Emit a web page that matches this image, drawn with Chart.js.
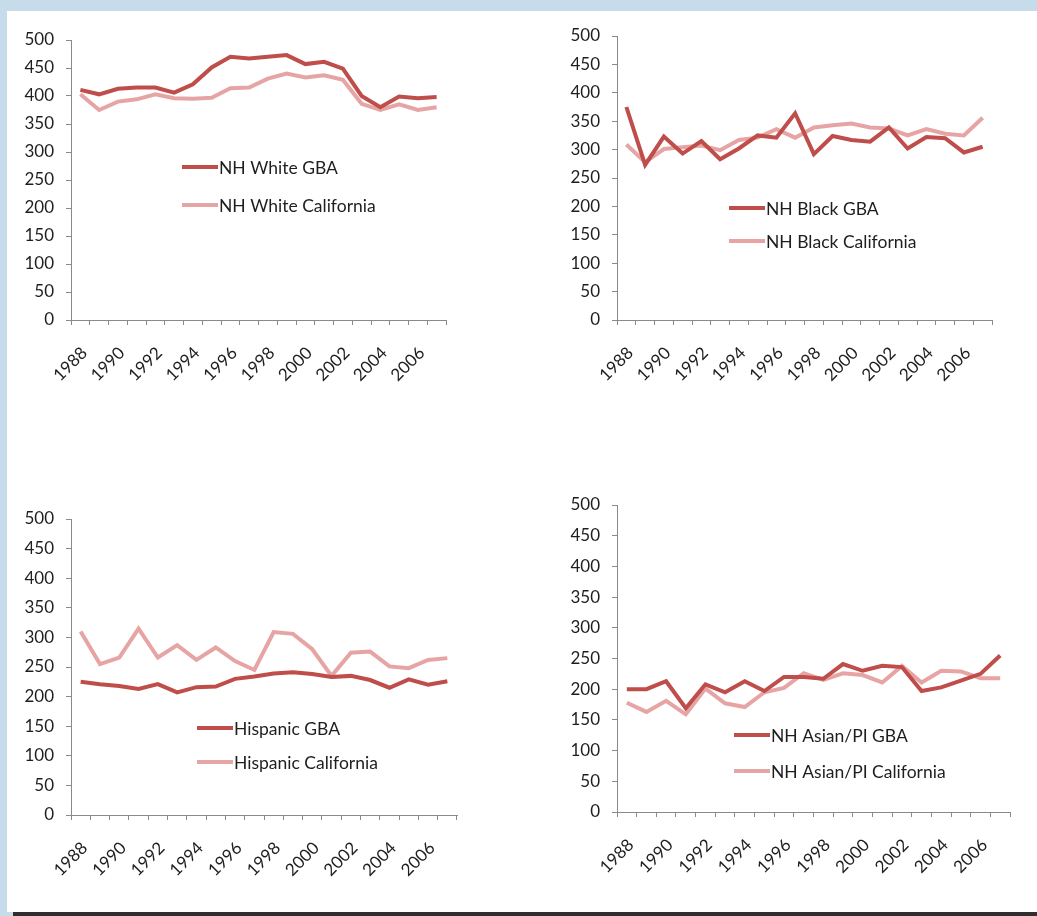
<!DOCTYPE html>
<html>
<head>
<meta charset="utf-8">
<script src="https://cdn.jsdelivr.net/npm/chart.js@4.4.1/dist/chart.umd.min.js"></script>
<style>
    html, body { margin: 0; padding: 0; }
    body { width: 1037px; height: 916px; background: #c6dcea; position: relative; overflow: hidden; }
    #panel { position: absolute; left: 7px; top: 11px; width: 1030px; height: 901px; background: #fff; }
    #bar { position: absolute; left: 13px; top: 912px; width: 1024px; height: 4px; background: #2e2e2e; }
    canvas { position: absolute; }
</style>
</head>
<body>
<div id="panel"></div>
<div id="bar"></div>
<canvas id="white" width="518" height="455" style="left:0;top:0"></canvas>
<canvas id="black" width="519" height="455" style="left:518px;top:0"></canvas>
<canvas id="hispanic" width="518" height="455" style="left:0;top:455px"></canvas>
<canvas id="asian" width="519" height="455" style="left:518px;top:455px"></canvas>
<script>
// years on the x axis, only every other one gets a label
const YEARS = ['1988', '1989', '1990', '1991', '1992', '1993', '1994', '1995', '1996', '1997',
    '1998', '1999', '2000', '2001', '2002', '2003', '2004', '2005', '2006', '2007'];
const Y_TICKS = [0, 50, 100, 150, 200, 250, 300, 350, 400, 450, 500];

const whiteGBA = [411, 403, 413, 415, 415, 406, 421, 451, 470, 467, 470, 473, 457, 461, 449, 400, 380, 399, 396, 398];
const whiteCal = [403, 375, 390, 394, 403, 396, 395, 397, 414, 415, 431, 440, 433, 437, 429, 386, 375, 385, 375, 380];

const blackGBA = [375, 273, 323, 293, 315, 283, 302, 325, 321, 364, 292, 324, 317, 314, 339, 302, 322, 320, 295, 305];
const blackCal = [309, 278, 301, 304, 307, 299, 317, 321, 336, 321, 339, 343, 346, 339, 337, 325, 336, 328, 325, 356];

const hispGBA = [225, 221, 218, 213, 221, 207, 216, 217, 230, 234, 239, 241, 238, 233, 235, 228, 215, 229, 220, 226];
const hispCal = [310, 255, 266, 315, 266, 287, 262, 283, 260, 245, 309, 306, 280, 235, 274, 276, 251, 248, 262, 265];

const asianGBA = [200, 200, 213, 169, 208, 195, 213, 197, 220, 220, 217, 241, 230, 238, 236, 197, 203, 214, 225, 255];
const asianCal = [178, 163, 181, 159, 201, 177, 171, 195, 202, 226, 215, 226, 223, 211, 238, 211, 230, 229, 218, 218];

const DARK = '#bf4d4a';
const LIGHT = '#e6a5a4';
const AXIS = '#8a8a8a';
const TEXT = '#1e1e1e';
const FONT = 'Lato, "Open Sans", sans-serif';

// legend drawn inside the plot, like the original spreadsheet charts
const insideLegend = {
    id: 'insideLegend',
    afterDraw(chart, args, opts) {
        const ctx = chart.ctx;
        ctx.save();
        ctx.font = '17.5px ' + FONT;
        ctx.textBaseline = 'middle';
        ctx.textAlign = 'left';
        chart.data.datasets.forEach(function (ds, i) {
            var y = opts.y + i * opts.gap;
            ctx.strokeStyle = ds.borderColor;
            ctx.lineWidth = 4;
            ctx.beginPath();
            ctx.moveTo(opts.x, y);
            ctx.lineTo(opts.x + 36, y);
            ctx.stroke();
            ctx.fillStyle = TEXT;
            ctx.fillText(ds.label, opts.x + 37, y + 1);
        });
        ctx.restore();
    }
};

function makeChart(id, names, gba, cal, area, legend) {
    const canvas = document.getElementById(id);
    return new Chart(canvas.getContext('2d'), {
        type: 'line',
        data: {
            labels: YEARS,
            datasets: [{
                label: names[0],
                data: gba,
                borderColor: DARK,
                borderWidth: 4,
                pointRadius: 0,
                tension: 0
            }, {
                label: names[1],
                data: cal,
                borderColor: LIGHT,
                borderWidth: 4,
                pointRadius: 0,
                tension: 0
            }]
        },
        options: {
            responsive: false,
            animation: false,
            events: [],
            layout: {
                padding: {left: 0, top: area.top, right: canvas.width - area.right, bottom: 0}
            },
            plugins: {
                legend: {display: false},
                tooltip: {enabled: false},
                insideLegend: legend
            },
            scales: {
                x: {
                    offset: true,
                    afterFit: function (s) { s.height = canvas.height - area.bottom; },
                    grid: {
                        offset: true,
                        drawOnChartArea: false,
                        drawTicks: true,
                        tickLength: 5,
                        color: AXIS
                    },
                    border: {display: true, color: AXIS, width: 1},
                    ticks: {
                        autoSkip: false,
                        minRotation: 45,
                        maxRotation: 45,
                        padding: 18,
                        labelOffset: 4,
                        color: TEXT,
                        font: {family: FONT, size: 17},
                        callback: function (v, i) { return i % 2 === 0 ? YEARS[i] : ''; }
                    }
                },
                y: {
                    min: 0,
                    max: 500,
                    afterFit: function (s) { s.width = area.left; },
                    afterBuildTicks: function (s) { s.ticks = Y_TICKS.map(function (v) { return {value: v}; }); },
                    grid: {
                        drawOnChartArea: false,
                        drawTicks: true,
                        tickLength: 5,
                        color: AXIS
                    },
                    border: {display: true, color: AXIS, width: 1},
                    ticks: {
                        padding: 12,
                        color: TEXT,
                        font: {family: FONT, size: 17}
                    }
                }
            }
        },
        plugins: [insideLegend]
    });
}

makeChart('white', ['NH White GBA', 'NH White California'], whiteGBA, whiteCal,
    {left: 71, top: 40, right: 446, bottom: 320}, {x: 182, y: 167, gap: 38});
makeChart('black', ['NH Black GBA', 'NH Black California'], blackGBA, blackCal,
    {left: 99, top: 36, right: 474, bottom: 320}, {x: 211, y: 208, gap: 33});
makeChart('hispanic', ['Hispanic GBA', 'Hispanic California'], hispGBA, hispCal,
    {left: 71, top: 64, right: 457, bottom: 360}, {x: 197, y: 273, gap: 34});
makeChart('asian', ['NH Asian/PI GBA', 'NH Asian/PI California'], asianGBA, asianCal,
    {left: 99, top: 50, right: 492, bottom: 357}, {x: 216, y: 280, gap: 36});
</script>
</body>
</html>
